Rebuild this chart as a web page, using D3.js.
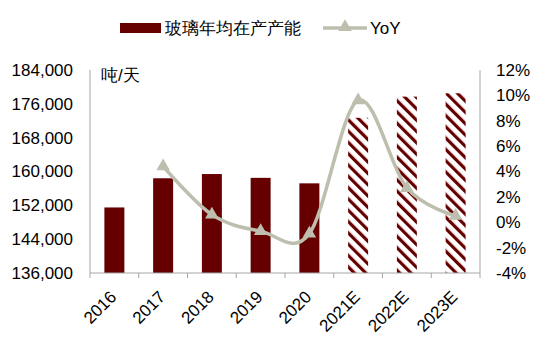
<!DOCTYPE html>
<html>
<head>
<meta charset="utf-8">
<script src="https://cdn.jsdelivr.net/npm/d3@7"></script>
<style>
  body { margin: 0; background: #fff; }
  text { font-family: "Liberation Sans", Arial, sans-serif; fill: #000; }
</style>
</head>
<body>
<svg id="chart" width="550" height="351"></svg>
<script>
const years = ["2016", "2017", "2018", "2019", "2020", "2021E", "2022E", "2023E"];
const capacity = [151500, 158400, 159400, 158500, 157200, 172700, 177700, 178500];
const yoy = [null, 4.4, 0.6, -0.7, -0.9, 9.6, 2.7, 0.5];
const leftTicks = [136000, 144000, 152000, 160000, 168000, 176000, 184000];
const rightTicks = [-4, -2, 0, 2, 4, 6, 8, 10, 12];
const forecastFrom = 5;

const svg = d3.select("#chart");
const margin = {left: 90, right: 70, top: 70, bottom: 78};
const width = 550, height = 351;
const x0 = margin.left, x1 = width - margin.right;
const y0 = height - margin.bottom, y1 = margin.top;

const axisColor = "#a6a6a6";
const barColor = "#660000";
const lineColor = "#bebeae";
const fs = 17;

// hatch for forecast bars
const defs = svg.append("defs");
const pat = defs.append("pattern")
    .attr("id", "hatch")
    .attr("patternUnits", "userSpaceOnUse")
    .attr("width", 8).attr("height", 8)
    .attr("patternTransform", "rotate(-45)");
pat.append("rect").attr("width", 8).attr("height", 8).attr("fill", "#fff");
pat.append("rect").attr("width", 3.2).attr("height", 8).attr("fill", barColor);

const x = d3.scaleBand().domain(years).range([x0, x1]).paddingInner(0.59).paddingOuter(0.295);
const band = d3.scaleBand().domain(years).range([x0, x1]);
const y = d3.scaleLinear().domain([136000, 184000]).range([y0, y1]);
const yr = d3.scaleLinear().domain([-4, 12]).range([y0, y1]);

// bars
svg.append("g").selectAll("rect")
    .data(capacity)
    .join("rect")
    .attr("x", (d, i) => x(years[i]))
    .attr("width", x.bandwidth())
    .attr("y", d => y(d))
    .attr("height", d => y0 - y(d))
    .attr("fill", (d, i) => i >= forecastFrom ? "url(#hatch)" : barColor);

// axes lines
svg.append("line").attr("x1", x0).attr("x2", x0).attr("y1", y1).attr("y2", y0)
    .attr("stroke", axisColor);
svg.append("line").attr("x1", x1).attr("x2", x1).attr("y1", y1).attr("y2", y0)
    .attr("stroke", axisColor);
svg.append("line").attr("x1", x0).attr("x2", x1).attr("y1", y0).attr("y2", y0)
    .attr("stroke", axisColor);

// x ticks at band boundaries
const bounds = years.map(d => band(d)).concat([x1]);
svg.append("g").selectAll("line")
    .data(bounds)
    .join("line")
    .attr("x1", d => d).attr("x2", d => d)
    .attr("y1", y0).attr("y2", y0 + 5)
    .attr("stroke", axisColor);

// x labels
svg.append("g").selectAll("text")
    .data(years)
    .join("text")
    .attr("transform", d => `translate(${band(d) + band.bandwidth() / 2 + 3},${y0 + 25}) rotate(-45)`)
    .attr("text-anchor", "end")
    .attr("font-size", fs)
    .text(d => d);

// left tick labels
const fmt = d3.format(",");
svg.append("g").selectAll("text")
    .data(leftTicks)
    .join("text")
    .attr("x", x0 - 17)
    .attr("y", d => y(d))
    .attr("dy", "0.35em")
    .attr("text-anchor", "end")
    .attr("font-size", fs)
    .text(d => fmt(d));

// right tick labels
svg.append("g").selectAll("text")
    .data(rightTicks)
    .join("text")
    .attr("x", x1 + 16)
    .attr("y", d => yr(d))
    .attr("dy", "0.35em")
    .attr("font-size", fs)
    .text(d => d + "%");

// unit
svg.append("text").attr("x", 101).attr("y", 81).attr("font-size", fs).text("吨/天");

// yoy line
const pts = yoy.map((v, i) => [band(years[i]) + band.bandwidth() / 2, v]).filter(p => p[1] !== null);
const line = d3.line()
    .x(p => p[0])
    .y(p => yr(p[1]))
    .curve(d3.curveCatmullRom.alpha(0));
svg.append("path")
    .attr("d", line(pts))
    .attr("fill", "none")
    .attr("stroke", lineColor)
    .attr("stroke-width", 3.5);

const tri = d3.symbol().type(d3.symbolTriangle).size(80);
svg.append("g").selectAll("path")
    .data(pts)
    .join("path")
    .attr("transform", p => `translate(${p[0]},${yr(p[1])})`)
    .attr("d", tri)
    .attr("fill", lineColor);

// legend
const lg = svg.append("g");
lg.append("rect").attr("x", 120).attr("y", 23).attr("width", 41).attr("height", 10).attr("fill", barColor);
lg.append("text").attr("x", 165).attr("y", 28).attr("dy", "0.35em").attr("font-size", fs).text("玻璃年均在产产能");
lg.append("line").attr("x1", 323).attr("x2", 367).attr("y1", 28).attr("y2", 28)
    .attr("stroke", lineColor).attr("stroke-width", 3.5);
lg.append("path").attr("transform", "translate(345,27)").attr("d", tri).attr("fill", lineColor);
lg.append("text").attr("x", 370).attr("y", 28).attr("dy", "0.35em").attr("font-size", fs).text("YoY");
</script>
</body>
</html>
